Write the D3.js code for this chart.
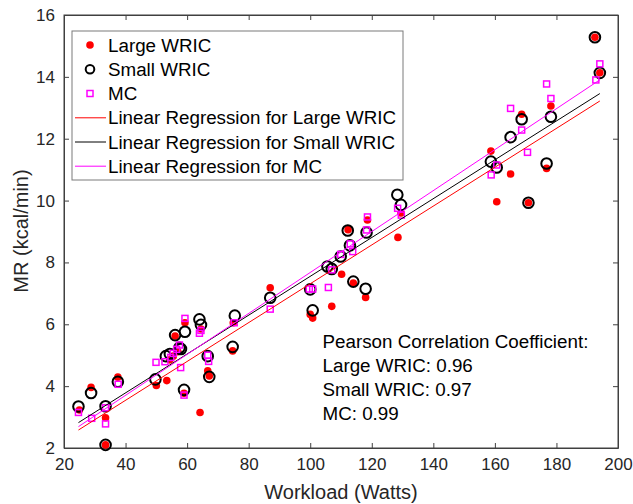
<!DOCTYPE html>
<html><head><meta charset="utf-8">
<script src="https://cdn.jsdelivr.net/npm/d3@7"></script>
<style>body{margin:0;background:#fff}svg{display:block}</style>
</head><body>
<script>
const largeX = [25,28.8,33.5,33.5,37.5,50,53.4,54.4,55.5,56.1,57,59,59.3,64.2,64.5,66.7,67.2,75,74.8,87,100,100.8,107,110.2,112.3,114,118,118.6,128.5,129.5,158.7,160.6,165.1,168.7,170.9,176.8,178.2,192.5,194.1];
const largeY = [3.23,3.96,2.98,2.10,4.29,4.02,4.18,4.85,4.97,5.62,5.11,3.77,6.05,3.15,5.85,4.5,4.33,6.05,5.14,7.18,6.32,6.2,6.58,7.62,9.06,7.33,6.87,9.37,8.81,9.6,11.6,9.96,10.86,12.79,9.93,11.04,13.06,15.28,14.13];
const smallX = [24.7,28.8,33.5,33.5,37.5,49.7,53.1,54.4,56.1,57.5,58,59,59.3,64,64.5,66.7,67.2,75.5,74.8,87,100,100.8,105.6,107,109.9,112.2,112.9,114,118,118.3,128.3,129.5,158.7,160.6,165.1,168.7,170.9,176.8,178.2,192.5,194.1];
const smallY = [3.34,3.78,3.35,2.10,4.14,4.22,4.97,5.04,5.65,5.24,5.2,3.88,5.76,6.16,5.98,4.97,4.3,6.28,5.27,6.86,7.13,6.45,7.87,7.79,8.19,9.03,8.55,7.38,7.15,8.97,10.19,9.86,11.26,11.07,12.05,12.63,9.93,11.2,12.71,15.28,14.13];
const mcX = [24.7,29,33.5,33.5,37.6,49.9,52.8,54.7,55.5,56.6,57.5,57.9,59,59.3,64,64.5,66.7,67,75.3,87,99.7,100.8,105.9,107,109.9,113,113.8,118.3,118.6,128.4,129.6,158.8,160.6,165.1,168.7,170.6,176.8,178.2,192.8,194.1];
const mcY = [3.15,2.96,3.30,2.78,4.06,4.77,4.79,4.93,5.06,5.19,5.33,4.6,3.71,6.19,5.71,5.8,5.0,4.8,6.05,6.49,7.14,7.14,7.19,7.76,8.26,8.6,8.35,9.05,9.47,9.75,9.53,10.83,11.15,12.98,12.28,11.56,13.77,13.3,13.9,14.42];
// regression lines: [slope, intercept, xStart, xEnd]
const fitLarge = [0.0628, 1.03, 24.7, 194.1];
const fitSmall = [0.0628, 1.27, 24.7, 194.1];
const fitMC = [0.0662, 1.055, 24.7, 194.1];
const xTicks = [20,40,60,80,100,120,140,160,180,200];
const yTicks = [2,4,6,8,10,12,14,16];
const legendLabels = ["Large WRIC","Small WRIC","MC","Linear Regression for Large WRIC","Linear Regression for Small WRIC","Linear Regression for MC"];
const pearsonLines = ["Pearson Correlation Coefficient:","Large WRIC: 0.96","Small WRIC: 0.97","MC: 0.99"];

const W=633,H=504;
const FONT="'Liberation Sans', Arial, sans-serif";
const svg=d3.select("body").append("svg").attr("width",W).attr("height",H).style("font-family",FONT);
const x=d3.scaleLinear().domain([20,200]).range([64,618]);
const y=d3.scaleLinear().domain([2,16]).range([448,15]);
const axisCol="#404040", textCol="#262626";

// axes box
svg.append("rect").attr("x",x(20)).attr("y",y(16)).attr("width",x(200)-x(20)).attr("height",y(2)-y(16))
  .attr("fill","#fff").attr("stroke",axisCol).attr("stroke-width",1);

const tl=5;
const gB=svg.append("g").attr("transform",`translate(0,${y(2)})`).call(d3.axisBottom(x).tickValues(xTicks).tickSizeInner(-tl).tickSizeOuter(0).tickPadding(10));
const gT=svg.append("g").attr("transform",`translate(0,${y(16)})`).call(d3.axisTop(x).tickValues(xTicks).tickSizeInner(-tl).tickSizeOuter(0).tickFormat(""));
const gL=svg.append("g").attr("transform",`translate(${x(20)},0)`).call(d3.axisLeft(y).tickValues(yTicks).tickSizeInner(-tl).tickSizeOuter(0).tickPadding(9));
const gR=svg.append("g").attr("transform",`translate(${x(200)},0)`).call(d3.axisRight(y).tickValues(yTicks).tickSizeInner(-tl).tickSizeOuter(0).tickFormat(""));
[gB,gT,gL,gR].forEach(g=>{g.select(".domain").attr("stroke",axisCol);g.selectAll(".tick line").attr("stroke",axisCol);
  g.selectAll("text").attr("fill",textCol).style("font-size","17px").style("font-family",FONT);});

// points
const plot=svg.append("g");
plot.selectAll(".lg").data(d3.range(largeX.length)).join("circle")
  .attr("cx",i=>x(largeX[i])).attr("cy",i=>y(largeY[i])).attr("r",3.8).attr("fill","#ff0000");
plot.selectAll(".sm").data(d3.range(smallX.length)).join("circle")
  .attr("cx",i=>x(smallX[i])).attr("cy",i=>y(smallY[i])).attr("r",5.3).attr("fill","none").attr("stroke","#000").attr("stroke-width",2);
const s=6;
plot.selectAll(".mc").data(d3.range(mcX.length)).join("rect")
  .attr("x",i=>x(mcX[i])-s/2).attr("y",i=>y(mcY[i])-s/2).attr("width",s).attr("height",s)
  .attr("fill","none").attr("stroke","#ff00ff").attr("stroke-width",1.5);

// regression lines
const fits=[[fitLarge,"#ff0000"],[fitSmall,"#000000"],[fitMC,"#ff00ff"]];
fits.forEach(([f,c])=>{
  plot.append("line").attr("x1",x(f[2])).attr("y1",y(f[0]*f[2]+f[1])).attr("x2",x(f[3])).attr("y2",y(f[0]*f[3]+f[1]))
    .attr("stroke",c).attr("stroke-width",1);
});

// legend
const lg=svg.append("g");
lg.append("rect").attr("x",72).attr("y",31).attr("width",331).attr("height",149).attr("fill","#fff").attr("stroke","#7a7a7a").attr("stroke-width",1);
const rowY=[45,69.3,93.5,117.8,142,166.2];
lg.append("circle").attr("cx",90).attr("cy",rowY[0]).attr("r",3.8).attr("fill","#ff0000");
lg.append("circle").attr("cx",90).attr("cy",rowY[1]).attr("r",4.3).attr("fill","none").attr("stroke","#000").attr("stroke-width",2);
lg.append("rect").attr("x",90-s/2).attr("y",rowY[2]-s/2).attr("width",s).attr("height",s).attr("fill","none").attr("stroke","#ff00ff").attr("stroke-width",1.5);
fits.forEach(([f,c],i)=>{lg.append("line").attr("x1",75).attr("x2",106).attr("y1",rowY[3+i]).attr("y2",rowY[3+i]).attr("stroke",c).attr("stroke-width",1);});
lg.selectAll("text").data(legendLabels).join("text").attr("x",108).attr("y",(d,i)=>rowY[i]+6.6)
  .attr("fill","#000").style("font-size","18.8px").text(d=>d);

// annotation
svg.append("g").selectAll("text").data(pearsonLines).join("text").attr("x",322.5).attr("y",(d,i)=>341.7+i*23.9+6.6)
  .attr("fill","#000").style("font-size","18.8px").text(d=>d);

// axis labels
svg.append("text").attr("x",341).attr("y",499).attr("text-anchor","middle").attr("fill",textCol).style("font-size","20px").text("Workload (Watts)");
svg.append("text").attr("transform","translate(28,231) rotate(-90)").attr("text-anchor","middle").attr("fill",textCol).style("font-size","20px").text("MR (kcal/min)");
</script>
</body></html>
